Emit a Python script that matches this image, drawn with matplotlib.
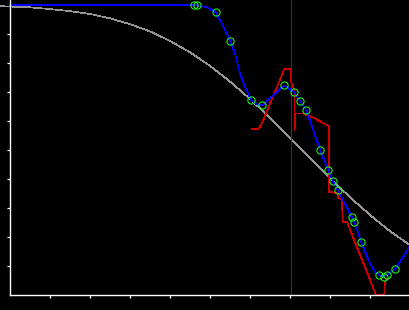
import matplotlib
matplotlib.use("Agg")
import matplotlib.pyplot as plt

# Gray reference curve
gray_x = [-0.25, 0.5, 1.0, 1.5, 2.0, 2.5, 3.0, 3.5, 4.0, 4.5, 5.0, 5.5, 6.0,
          6.5, 7.0, 7.5, 8.0, 8.5, 9.0, 9.5, 10.0]
gray_y = [9.96, 9.92, 9.86, 9.79, 9.69, 9.54, 9.34, 9.09, 8.76, 8.37, 7.90, 7.36,
          6.76, 6.11, 5.42, 4.72, 4.03, 3.37, 2.76, 2.20, 1.72]

# Blue smooth curve
blue_x = [0.0, 4.6125, 4.6675, 4.9175, 5.1425, 5.2925, 5.4175, 5.5075, 5.625, 5.75,
          5.875, 6.0325, 6.175, 6.3075, 6.8575, 7.1075, 7.2575, 7.405, 7.755,
          7.9575, 8.075, 8.2, 8.55, 8.6075, 8.7825, 9.0, 9.125, 9.225, 9.35,
          9.4175, 9.6325, 9.8325, 10.0]
blue_y = [10.0, 10.0, 9.99, 9.92, 9.75, 9.36, 9.03, 8.75, 8.33, 7.64,
          7.18, 6.72, 6.57, 6.54, 7.23, 6.99, 6.68, 6.38, 4.99,
          4.31, 3.92, 3.61, 2.68, 2.53, 1.82, 1.09, 0.80, 0.68, 0.63,
          0.69, 0.90, 1.32, 1.69]

# Green markers
mark_x = [4.6125, 4.6675, 5.1425, 5.5075, 6.0325, 6.3075, 6.8575, 7.1075, 7.2575,
          7.405, 7.755, 7.9575, 8.075, 8.2, 8.55, 8.6075, 8.7825, 9.225, 9.35,
          9.4175, 9.6325]
mark_y = [10.0, 10.0, 9.75, 8.75, 6.72, 6.54, 7.23, 6.99, 6.68, 6.38, 4.99, 4.31,
          3.92, 3.61, 2.68, 2.53, 1.82, 0.68, 0.63, 0.69, 0.90]

# Red step line
red_x = [6.058, 6.208, 6.30, 6.858, 7.0125, 7.0125, 7.1125, 7.1125, 7.1375, 7.325,
         7.575, 7.825, 7.975, 7.975, 8.2, 8.2, 8.3, 8.3175, 8.425, 9.15, 9.3575,
         9.3625, 9.3925]
red_y = [5.714, 5.714, 5.93, 7.783, 7.783, 7.414, 7.034, 5.69, 6.259, 6.259,
         6.121, 5.931, 5.828, 3.552, 3.517, 3.345, 3.31, 2.528, 2.517, 0.0, 0.0,
         0.276, 0.552]

# Vertical marker line
vline_x = 7.0375

x_ticks = [1, 2, 3, 4, 5, 6, 7, 8, 9]
y_ticks = [1, 2, 3, 4, 5, 6, 7, 8, 9]

fig = plt.figure(figsize=(4.1, 3.1), dpi=100)
fig.patch.set_facecolor("black")
ax = fig.add_axes([0, 0, 1, 1])
ax.set_facecolor("black")

LW = 0.5
ax.plot(gray_x, gray_y, color="#959595", lw=LW, clip_on=False, zorder=2,
        antialiased=False)
ax.plot(red_x, red_y, color="#cc0000", lw=LW, zorder=3, antialiased=False)
ax.plot([vline_x, vline_x], [0, 10.2], color="#800080", lw=LW, zorder=4,
        antialiased=False)
ax.plot(blue_x, blue_y, color="#0000ff", lw=LW, zorder=5, antialiased=False)
ax.plot(mark_x, mark_y, linestyle="none", marker="o", markersize=5.2,
        markerfacecolor="none", markeredgecolor="#22ee22", markeredgewidth=0.8,
        zorder=6)

ax.set_xlim(-0.25, 10.0)
ax.set_ylim(-15 / 29, 295 / 29)

for s in ["top", "right"]:
    ax.spines[s].set_visible(False)
ax.spines["left"].set_position(("data", 0))
ax.spines["bottom"].set_position(("data", 0))
ax.spines["left"].set_bounds(0, 295 / 29)
ax.spines["bottom"].set_bounds(0, 10.0)
for s in ["left", "bottom"]:
    ax.spines[s].set_color("white")
    ax.spines[s].set_linewidth(1.0)
    ax.spines[s].set_zorder(7)

ax.set_xticks(x_ticks)
ax.set_yticks(y_ticks)
ax.tick_params(colors="white", length=2.3, width=0.9, direction="out",
               labelbottom=False, labelleft=False)

fig.savefig("out.png", dpi=100, facecolor="black")
